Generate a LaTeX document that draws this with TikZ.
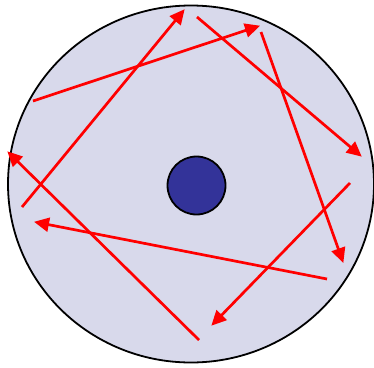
\documentclass[tikz,border=0pt]{standalone}
\usetikzlibrary{arrows.meta,shapes.geometric}
\definecolor{disk}{HTML}{D8D9EB}
\definecolor{core}{HTML}{333399}
\tikzset{
  ray/.style={draw=red, line width=2.7pt, -{Triangle[length=15pt,width=14pt]}, shorten >=-1pt},
}
\begin{document}
\begin{tikzpicture}[x=1pt,y=-1pt]
\useasboundingbox (0,0) rectangle (374,367);
\node[draw=black, line width=1.8pt, fill=disk, ellipse, minimum width=366pt, minimum height=357pt, inner sep=0pt] (big) at (191,184) {};
\node[draw=black, line width=1.8pt, fill=core, circle, minimum size=58pt, inner sep=0pt] (small) at (196.5,185.5) {};
\coordinate (s1) at (33,101);  \coordinate (e1) at (259,26);
\coordinate (s2) at (22,207);  \coordinate (e2) at (184,10);
\coordinate (s3) at (197,17);  \coordinate (e3) at (361,156);
\coordinate (s4) at (261,32);  \coordinate (e4) at (343,262);
\coordinate (s5) at (350,183); \coordinate (e5) at (212,325);
\coordinate (s6) at (327,279); \coordinate (e6) at (35,222);
\coordinate (s7) at (199,340); \coordinate (e7) at (8,152);
\foreach \i in {1,...,7} { \draw[ray] (s\i) -- (e\i); }
\end{tikzpicture}
\end{document}
